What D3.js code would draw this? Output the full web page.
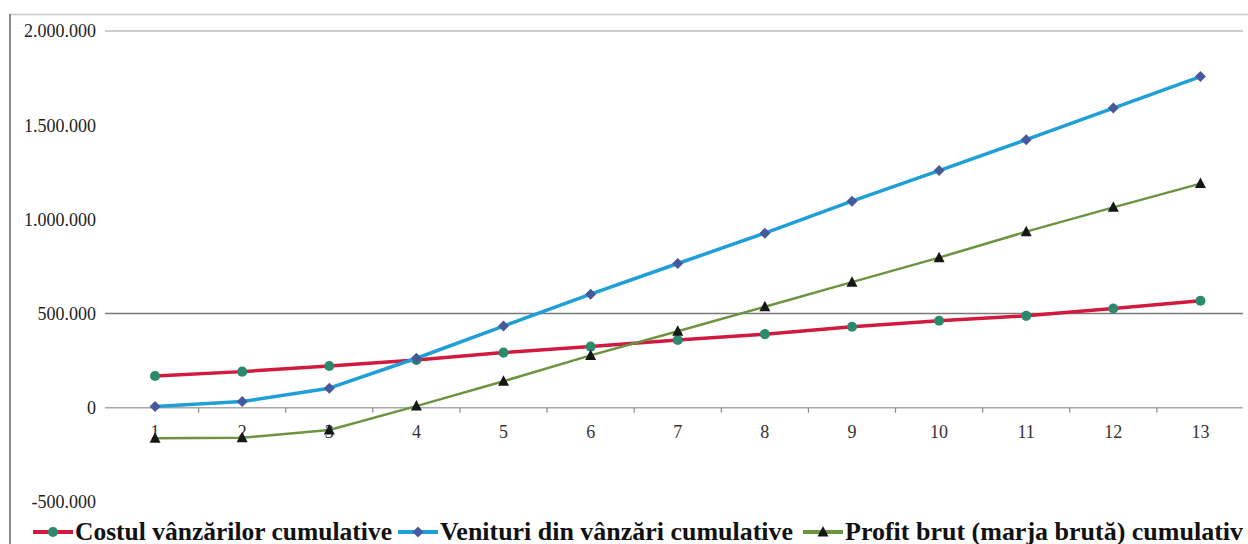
<!DOCTYPE html>
<html><head><meta charset="utf-8">
<script src="https://cdn.jsdelivr.net/npm/d3@7"></script>
<style>html,body{margin:0;padding:0;background:#fff;overflow:hidden}</style>
</head><body>
<svg id="c" width="1248" height="544"></svg>
<script>
const categories = ["1","2","3","4","5","6","7","8","9","10","11","12","13"];
const costValues = [169000,192000,222000,254000,293000,325000,360000,391000,430000,462000,488000,527000,568000];
const revenueValues = [7000,33000,104000,263000,434000,603000,766000,927000,1097000,1259000,1423000,1591000,1758000];
const profitValues = [-162000,-159000,-118000,9000,141000,278000,406000,536000,667000,797000,935000,1064000,1190000];
const yTicks = [-500000,0,500000,1000000,1500000,2000000];
const seriesNames = ["Costul vânzărilor cumulative","Venituri din vânzări cumulative","Profit brut (marja brută) cumulativ"];

const svg = d3.select("#c");
const x = d3.scaleBand().domain(categories).range([111.5,1244]);
const y = d3.scaleLinear().domain([-500000,2000000]).range([502,31]);
const fmt = v => d3.format(",")(v).replace(/,/g,".").replace("\u2212","-");
const serif = "'Liberation Serif','Times New Roman',serif";

// chart frame
svg.append("line").attr("x1",10).attr("x2",1248).attr("y1",14.5).attr("y2",14.5).attr("stroke","#c8c8c8").attr("stroke-width",1.5);
svg.append("line").attr("x1",10).attr("x2",10).attr("y1",14).attr("y2",544).attr("stroke","#8a8a8a").attr("stroke-width",2);

// gridlines (visible ones)
svg.append("line").attr("x1",105).attr("x2",1243).attr("y1",y(2000000)).attr("y2",y(2000000)).attr("stroke","#bdbdbd").attr("stroke-width",1.5);
svg.append("line").attr("x1",105).attr("x2",1243).attr("y1",y(500000)).attr("y2",y(500000)).attr("stroke","#7a7a7a").attr("stroke-width",1.5);

// y labels
svg.append("g").selectAll("text").data(yTicks).join("text")
  .attr("x",96).attr("y",d=>y(d)).attr("dy","0.35em").attr("text-anchor","end")
  .attr("font-family",serif).attr("font-size",18).attr("fill","#222").text(fmt);

// x axis line & ticks between categories
svg.append("line").attr("x1",105).attr("x2",1243).attr("y1",y(0)).attr("y2",y(0)).attr("stroke","#a8a8a8").attr("stroke-width",1.5);
svg.append("g").selectAll("line").data(categories.slice(1)).join("line")
  .attr("x1",d=>x(d)).attr("x2",d=>x(d)).attr("y1",y(0)).attr("y2",y(0)+5)
  .attr("stroke","#888").attr("stroke-width",1.2);

// x labels
svg.append("g").selectAll("text").data(categories).join("text")
  .attr("x",d=>x(d)+x.bandwidth()/2).attr("y",438).attr("text-anchor","middle")
  .attr("font-family",serif).attr("font-size",18).attr("fill","#333").text(d=>d);

const cx = (d,i) => x(categories[i]) + x.bandwidth()/2;
const line = d3.line().x((d,i)=>cx(d,i)).y(d=>y(d));

const series = [
  {vals: costValues, color:"#d11a3e", width:3.5, marker:"circle", mfill:"#2c8a6c"},
  {vals: revenueValues, color:"#1f9fd6", width:3.5, marker:"diamond", mfill:"#46599a"},
  {vals: profitValues, color:"#6c9440", width:2.5, marker:"triangle", mfill:"#161616"}
];
function markerPath(type){
  if(type==="circle") return d3.symbol(d3.symbolCircle, 80)();
  if(type==="diamond") return "M0,-5.5L5.5,0L0,5.5L-5.5,0Z";
  return "M0,-6L5.5,4.5L-5.5,4.5Z";
}
series.forEach(s=>{
  svg.append("path").datum(s.vals).attr("d",line).attr("fill","none")
    .attr("stroke",s.color).attr("stroke-width",s.width).attr("stroke-linejoin","round");
  svg.append("g").selectAll("path").data(s.vals).join("path")
    .attr("transform",(d,i)=>`translate(${cx(d,i)},${y(d)})`)
    .attr("d",markerPath(s.marker)).attr("fill",s.mfill);
});

// legend
const legendX = [33, 398, 803];
const legendW = [317, 353, 398];
const ly = 532;
series.forEach((s,i)=>{
  const g = svg.append("g").attr("transform",`translate(${legendX[i]},${ly})`);
  g.append("line").attr("x1",0).attr("x2",40).attr("y1",0).attr("y2",0).attr("stroke",s.color).attr("stroke-width",4);
  g.append("path").attr("transform","translate(20,0)").attr("d",markerPath(s.marker)).attr("fill",s.mfill);
  g.append("text").attr("x",42).attr("y",8).attr("font-family",serif).attr("font-weight","bold")
    .attr("font-size",25).attr("fill","#111")
    .attr("textLength",legendW[i]).attr("lengthAdjust","spacingAndGlyphs").text(seriesNames[i]);
});
</script>
</body></html>
